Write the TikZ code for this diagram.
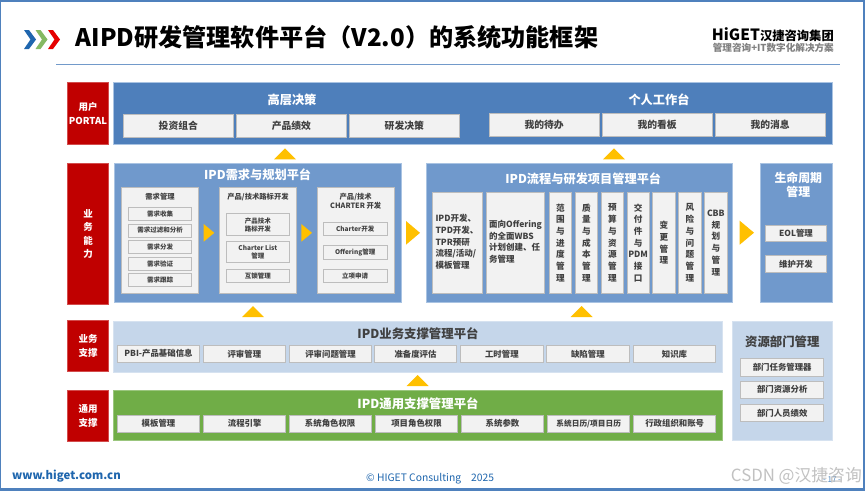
\documentclass[tikz,border=0pt]{standalone}
\usepackage{fontspec}
\setmainfont{Noto Sans CJK SC}
\definecolor{topblue}{HTML}{4E7FBB}
\definecolor{midblue}{HTML}{7099CC}
\definecolor{lightblue}{HTML}{C5D6EA}
\definecolor{edgeblue}{HTML}{A9C3E2}
\definecolor{grn}{HTML}{70AD47}
\definecolor{redbox}{HTML}{C00000}
\definecolor{amber}{HTML}{FFC000}
\definecolor{cellfill}{HTML}{F2F2F2}
\definecolor{celledge}{HTML}{BDBDBD}
\definecolor{inktext}{HTML}{404040}
\definecolor{linkblue}{HTML}{1F66AE}
\definecolor{framec}{HTML}{4F81BD}
\newcommand{\fs}[2]{\fontsize{#1}{#2}\selectfont\bfseries}
\tikzset{
  x=1pt,y=-1pt,
  base/.style={inner sep=0pt,outer sep=0pt,align=center,line width=0.9pt},
  redlabel/.style={base,fill=redbox,draw=redbox!70!white,text=white,font=\fs{9.5}{13.6}},
  bandtop/.style={base,fill=topblue,draw=edgeblue},
  bandmid/.style={base,fill=midblue,draw=edgeblue},
  bandlight/.style={base,fill=lightblue,draw=lightblue!70!white},
  bandgreen/.style={base,fill=grn,draw=grn!70!white},
  panel/.style={base,fill=cellfill,draw=celledge,text=inktext,font=\fs{7.3}{9}},
  cell/.style={base,fill=cellfill,draw=celledge,text=inktext,font=\fs{8.4}{10.5}},
  cellsm/.style={cell,font=\fs{6.5}{8.2}},
  cellbig/.style={cell,font=\fs{9.8}{12}},
  cellwide/.style={cell,font=\fs{8.5}{11.7}},
  tallcell/.style={cell,font=\fs{8.6}{11.7}},
  headw/.style={inner sep=0pt,align=center,text=white,font=\fs{12.2}{15}},
  headd/.style={inner sep=0pt,align=center,text=inktext,font=\fs{12.4}{15}},
  sub/.style={inner sep=0pt,align=center,text=inktext,font=\fs{7.3}{9}},
  tri/.style={fill=amber,draw=none},
}
% \bx[style]{name}{x1}{y1}{x2}{y2}{text}
\newcommand{\bx}[7][]{%
  \pgfmathsetmacro{\cxa}{(#3+#5)/2}\pgfmathsetmacro{\cya}{(#4+#6)/2}%
  \pgfmathsetmacro{\wa}{#5-#3}\pgfmathsetmacro{\ha}{#6-#4}%
  \node[#1,minimum width=\wa pt,minimum height=\ha pt] (#2) at (\cxa,\cya) {#7};}
\newcommand{\triup}[3]{\fill[tri] (#1-11,#3) -- (#1,#2) -- (#1+11,#3) -- cycle;}
\newcommand{\triright}[4]{\fill[tri] (#1,#3) -- (#2,#3/2+#4/2) -- (#1,#4) -- cycle;}
\newcommand{\chev}[2]{\fill[#2] (#1,30) -- (#1+5,30) -- (#1+12,39.5) -- (#1+5,49) -- (#1,49) -- (#1+6.5,39.5) -- cycle;}
\begin{document}
\begin{tikzpicture}
\useasboundingbox (0,0) rectangle (865,491);
\fill[white] (0,0) rectangle (865,491);
% frame
\fill[framec] (0,0) rectangle (865,1.8);
\fill[framec] (0,0) rectangle (1,491);
\fill[framec] (862.7,0) rectangle (865,491);
\fill[framec] (0,488.3) rectangle (865,491);
% header
\chev{24}{linkblue}
\chev{35.5}{grn!85!white}
\chev{48}{red!90!black}
\node[anchor=west,inner sep=0pt,text=black,font=\fs{24.15}{28}] (title) at (75.5,37) {AIPD研发管理软件平台（V2.0）的系统功能框架};
\node[anchor=east,inner sep=0pt,text=black,font=\fs{12.3}{15}] (logo) at (834,35) {{\fontsize{15.5}{15}\selectfont HiGET}汉捷咨询集团};
\node[anchor=east,inner sep=0pt,text=black!50,font=\fs{9.6}{11}] (slogan) at (834,47.6) {管理咨询+IT数字化解决方案};
\draw[framec!80!white,line width=0.9pt] (56,64) coordinate (ruleA) -- (840,64) coordinate (ruleB);
% red labels
\bx[redlabel]{rA}{67.3}{82.3}{108.7}{144.3}{用户\\PORTAL}
\bx[redlabel]{rB}{67.3}{163.7}{108.7}{304.3}{业\\务\\能\\力}
\bx[redlabel]{rC}{67.3}{320.3}{108.7}{371.3}{业务\\支撑}
\bx[redlabel]{rD}{67.3}{390.3}{108.7}{441.3}{通用\\支撑}
% top band
\bx[bandtop]{bTop}{113.5}{82.5}{832}{144.5}{}
\node[headw] (hA) at (292,100) {高层决策};
\node[headw] (hB) at (659,100) {个人工作台};
\bx[cellbig]{t1}{123.3}{114.3}{233.3}{137}{投资组合}
\bx[cellbig]{t2}{236.7}{114.3}{346}{137}{产品绩效}
\bx[cellbig]{t3}{349.3}{114.3}{459.3}{137}{研发决策}
\bx[cellbig]{t4}{489.3}{113.7}{599}{136.3}{我的待办}
\bx[cellbig]{t5}{602.3}{113.7}{712}{136.3}{我的看板}
\bx[cellbig]{t6}{715.3}{113.7}{825}{136.3}{我的消息}
\triup{285}{148.3}{159.3}
\triup{614}{148.3}{159.3}
% demand platform
\bx[bandmid]{bDem}{114.3}{163.7}{401.7}{302.7}{}
\node[headw] (hC) at (257.7,174.7) {IPD需求与规划平台};
\bx[panel]{pA}{121.7}{187.3}{198.7}{293.7}{}
\bx[panel]{pB}{219.3}{187.3}{296.3}{293.7}{}
\bx[panel]{pC}{317}{187.3}{394}{293.7}{}
\node[sub] (sA) at (160,197) {需求管理};
\node[sub] (sB) at (258,197) {产品/技术路标开发};
\node[sub] (sC) at (355.7,201.7) {产品/技术\\CHARTER 开发};
\bx[cellsm]{a1}{128.3}{207.3}{191.7}{220.7}{需求收集}
\bx[cellsm]{a2}{128.3}{224}{191.7}{237}{需求过滤和分析}
\bx[cellsm]{a3}{128.3}{240.3}{191.7}{253.7}{需求分发}
\bx[cellsm]{a4}{128.3}{257}{191.7}{270.3}{需求验证}
\bx[cellsm]{a5}{128.3}{273.3}{191.7}{286.7}{需求跟踪}
\bx[cellsm]{b1}{226}{213.7}{289.7}{235.7}{产品技术\\路标开发}
\bx[cellsm]{b2}{226}{241.7}{289.7}{262.7}{Charter List\\管理}
\bx[cellsm]{b3}{226}{269.3}{289.7}{282.7}{互锁管理}
\bx[cellsm]{c1}{323.3}{222.3}{387}{235.7}{Charter开发}
\bx[cellsm]{c2}{323.3}{245.7}{387}{259.3}{Offering管理}
\bx[cellsm]{c3}{323.3}{269.3}{387}{282.7}{立项申请}
\triright{203.7}{214.3}{224}{241.7}
\triright{301.3}{312}{224}{241.7}
\triright{406}{420}{221}{244.7}
% process platform
\bx[bandmid]{bPro}{426.3}{163.7}{732.3}{302.7}{}
\node[headw] (hD) at (583.3,178.7) {IPD流程与研发项目管理平台};
\bx[cellwide]{d1}{432}{192.3}{482}{293.3}{\begin{tabular}{@{}l@{}}IPD开发、\\TPD开发、\\TPR预研\\流程/活动/\\模板管理\end{tabular}}
\bx[cellwide]{d2}{486.3}{192.3}{544.7}{293.3}{\begin{tabular}{@{}l@{}}面向Offering\\的全面WBS\\计划创建、任\\务管理\end{tabular}}
\bx[tallcell]{d3}{549.3}{192.3}{571.3}{293.3}{范\\围\\与\\进\\度\\管\\理}
\bx[tallcell]{d4}{575.3}{192.3}{597.3}{293.3}{质\\量\\与\\成\\本\\管\\理}
\bx[tallcell]{d5}{601.3}{192.3}{623.3}{293.3}{预\\算\\与\\资\\源\\管\\理}
\bx[tallcell]{d6}{627}{192.3}{649.3}{293.3}{交\\付\\件\\与\\PDM\\接\\口}
\bx[tallcell]{d7}{652.7}{192.3}{675}{293.3}{变\\更\\管\\理}
\bx[tallcell]{d8}{678.7}{192.3}{701}{293.3}{风\\险\\与\\问\\题\\管\\理}
\bx[tallcell]{d9}{704.7}{192.3}{727}{293.3}{CBB\\规\\划\\与\\管\\理}
\triright{739.7}{754}{220.7}{244.7}
% lifecycle
\bx[bandmid]{bLife}{760.3}{163.7}{832}{302.7}{}
\node[headw,font=\fs{11.9}{14.5}] (hE) at (798.3,185) {生命周期\\管理};
\bx[cell]{e1}{765.7}{225}{826.3}{241.7}{EOL管理}
\bx[cell]{e2}{765.7}{255.7}{826.3}{272.7}{维护开发}
% business support
\triup{253}{306}{317}
\triup{581.7}{306}{317}
\bx[bandlight]{bBiz}{113.3}{321.3}{722.7}{372.3}{}
\node[headd] (hF) at (418,333.5) {IPD业务支撑管理平台};
\bx[cell]{f1}{117.3}{345.3}{199.7}{362.3}{PBI-产品基础信息}
\bx[cell]{f2}{203}{345.3}{285.7}{362.3}{评审管理}
\bx[cell]{f3}{289.3}{345.3}{371.7}{362.3}{评审问题管理}
\bx[cell]{f4}{374.3}{345.3}{456.7}{362.3}{准备度评估}
\bx[cell]{f5}{460.7}{345.3}{543}{362.3}{工时管理}
\bx[cell]{f6}{546.7}{345.3}{629}{362.3}{缺陷管理}
\bx[cell]{f7}{633.3}{345.3}{715.7}{362.3}{知识库}
\triup{417.7}{375}{386}
% general support
\bx[bandgreen]{bGen}{113.3}{390.3}{722.7}{440.7}{}
\node[headw,font=\fs{12.4}{15}] (hG) at (418,403.3) {IPD通用支撑管理平台};
\bx[cell]{g1}{117.3}{415.3}{199.7}{432}{模板管理}
\bx[cell]{g2}{203.7}{415.3}{285.7}{432}{流程引擎}
\bx[cell]{g3}{289.3}{415.3}{371}{432}{系统角色权限}
\bx[cell]{g4}{375.7}{415.3}{457.3}{432}{项目角色权限}
\bx[cell]{g5}{461.7}{415.3}{543.3}{432}{系统参数}
\bx[cell,font=\fs{7.7}{10}]{g6}{547.7}{415.3}{629.7}{432}{系统日历/项目日历}
\bx[cell]{g7}{633.7}{415.3}{715.7}{432}{行政组织和账号}
% resource
\bx[bandlight]{bRes}{732.7}{321.3}{832.7}{440.7}{}
\node[headd] (hH) at (782.3,341.7) {资源部门管理};
\bx[cell]{h1}{740.7}{358.7}{823.7}{376}{部门任务管理器}
\bx[cell]{h2}{740.7}{381}{823.7}{398.3}{部门资源分析}
\bx[cell]{h3}{740.7}{404.3}{823.7}{421.7}{部门人员绩效}
% footer
\node[anchor=west,inner sep=0pt,text=linkblue,font=\fs{11.4}{13}] (web) at (12,476) {www.higet.com.cn};
\node[anchor=west,inner sep=0pt,text=linkblue,font=\fontsize{10.3}{12}\selectfont] (copy) at (366,479) {© HIGET Consulting\hspace{10pt}2025};
\node[inner sep=0pt,text=linkblue!80!white,font=\fontsize{8}{10}\selectfont] (page) at (832,480) {- 17 -};
\node[anchor=east,inner sep=0pt,text=black!30,opacity=0.8,font=\fontsize{16.8}{19}\selectfont] (mark) at (862,476) {CSDN @汉捷咨询};
\end{tikzpicture}
\end{document}
